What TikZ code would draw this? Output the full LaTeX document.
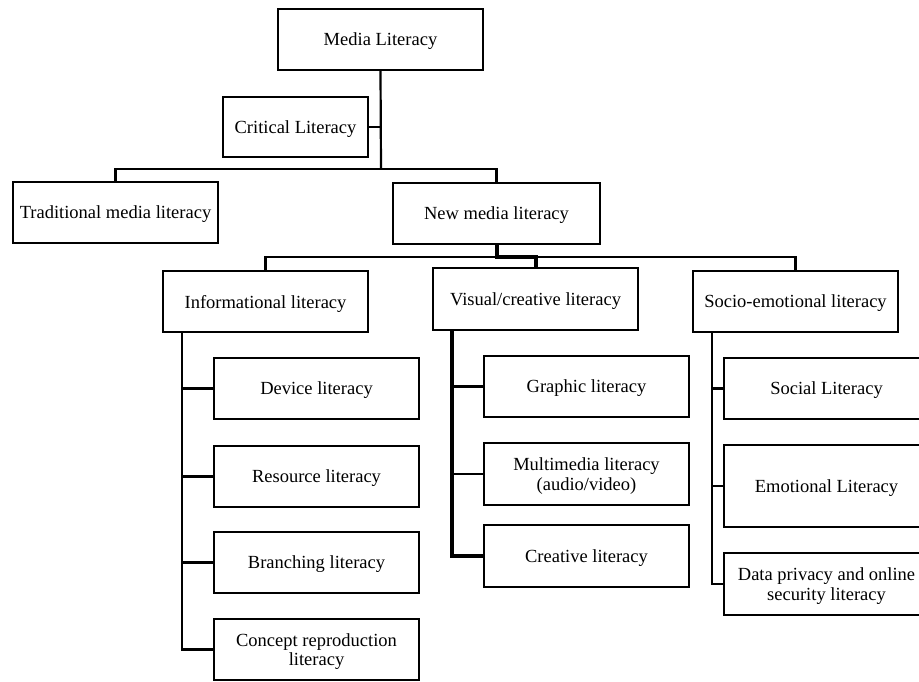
\documentclass[tikz,border=0pt]{standalone}
\usepackage{fontspec}
\setmainfont{Liberation Serif}
\begin{document}
\begin{tikzpicture}[x=1pt,y=-1pt,
  box/.style={draw, line width=2.2pt, minimum width=205pt, minimum height=61pt, inner sep=0pt, align=center,
    text depth=0pt, font=\fontsize{18.5}{19.5}\selectfont},
  conn/.style={line width=2.2pt},
  thickconn/.style={line width=4pt}]
\clip (0,0) rectangle (919,681);
\fill[white] (0,0) rectangle (919,681);
% level 0
\node[box] (media) at (380.5,39.5) {Media Literacy};
\node[box, minimum width=145pt, minimum height=60pt] (crit) at (295.5,127) {Critical Literacy};
% level 1
\node[box] (trad) at (115.5,212.5) {Traditional media literacy};
\node[box, minimum width=207pt] (new) at (496.5,213.5) {New media literacy};
% level 2
\node[box] (info) at (265.5,301.5) {Informational literacy};
\node[box, minimum height=62pt] (vis) at (535.5,299) {Visual/creative literacy};
\node[box] (socio) at (795.5,301.5) {Socio-emotional literacy};
% informational children
\node[box] (device) at (316.5,388.5) {Device literacy};
\node[box] (resource) at (316.5,476.5) {Resource literacy};
\node[box] (branch) at (316.5,562.5) {Branching literacy};
\node[box] (concept) at (316.5,649.5) {Concept reproduction\\literacy};
% visual children
\node[box] (graphic) at (586.5,386.5) {Graphic literacy};
\node[box, minimum height=62pt] (multi) at (586.5,474) {Multimedia literacy\\(audio/video)};
\node[box, minimum height=62pt] (creative) at (586.5,556) {Creative literacy};
% socio children
\node[box] (social) at (826.5,388.5) {Social Literacy};
\node[box, minimum height=82pt] (emo) at (826.5,486) {Emotional Literacy};
\node[box, minimum height=62pt] (data) at (826.5,584) {Data privacy and online\\security literacy};
% connectors
\coordinate (tb) at (381,169);
\coordinate (bus) at (496.5,257);
\draw[conn] (media.south) -- (tb);
\draw[conn] (crit.east) -- (crit.east -| media.south);
\draw[conn] (trad.north) |- (tb) -| (new.north);
\draw[conn] (info.north) |- (bus) -| (socio.north);
\draw[thickconn] (new.south) |- (bus) -| (vis.north);
\coordinate (ispine) at ([xshift=20pt]info.south west);
\coordinate (vspine) at ([xshift=20pt]vis.south west);
\coordinate (sspine) at ([xshift=20pt]socio.south west);
\draw[conn] (ispine) |- (concept.west);
\foreach \n in {device,resource,branch} \draw[conn] (ispine |- \n.west) -- (\n.west);
\draw[thickconn] (vspine) |- (creative.west);
\foreach \n in {graphic,multi} \draw[conn] (vspine |- \n.west) -- (\n.west);
\draw[conn] (sspine) |- (data.west);
\foreach \n in {social,emo} \draw[conn] (sspine |- \n.west) -- (\n.west);
\end{tikzpicture}
\end{document}
